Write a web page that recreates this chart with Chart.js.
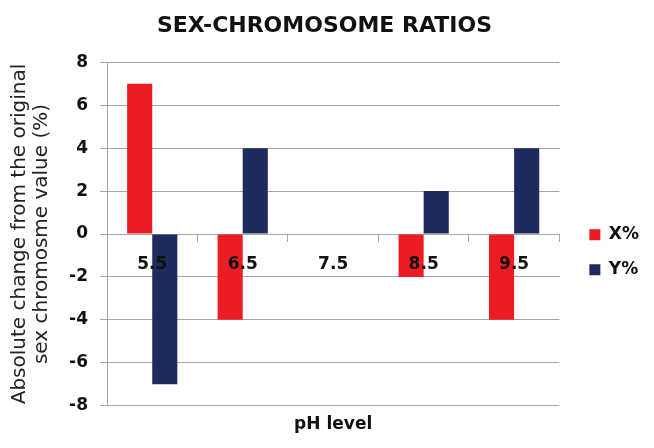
<!DOCTYPE html>
<html><head><meta charset="utf-8">
<script src="https://cdn.jsdelivr.net/npm/chart.js@4/dist/chart.umd.min.js"></script>
<style>html,body{margin:0;padding:0;background:#fff}#wrap{width:654px;height:448px}</style>
</head><body><div id="wrap"><canvas id="c" width="654" height="448"></canvas></div>
<script>
const categories = ['5.5', '6.5', '7.5', '8.5', '9.5'];
const xPercent = [7, -4, 0, -2, -4];
const yPercent = [-7, 4, 0, 2, 4];
const seriesNames = ['X%', 'Y%'];
const yMin = -8, yMax = 8, yStep = 2;
const chartTitle = 'SEX-CHROMOSOME RATIOS';
const yTitle = ['Absolute change from the original', 'sex chromosme value (%)'];
const xTitle = 'pH level';

const FONT = "'DejaVu Sans', sans-serif";
const GRID = '#A6A6A6';
Chart.defaults.color = '#000';
Chart.defaults.font.family = FONT;

new Chart(document.getElementById('c'), {
  type: 'bar',
  data: {
    labels: categories,
    datasets: [
      { label: seriesNames[0], data: xPercent, backgroundColor: '#ED1C24', xAxisID: 'x', yAxisID: 'y' },
      { label: seriesNames[1], data: yPercent, backgroundColor: '#1F2A5E', xAxisID: 'x', yAxisID: 'y' }
    ]
  },
  options: {
    responsive: false,
    animation: false,
    devicePixelRatio: 1,
    layout: { padding: { left: 0, right: 5, top: 0, bottom: 13 } },
    datasets: { bar: { barPercentage: 1, categoryPercentage: 0.555 } },
    plugins: {
      title: {
        display: true, text: chartTitle, color: '#111',
        font: { family: FONT, size: 22, weight: 'bold' },
        padding: { top: 13, bottom: 23 }
      },
      legend: {
        position: 'right',
        title: { display: true, text: ' ', font: { size: 8 }, padding: 30 },
        labels: {
          boxWidth: 11, boxHeight: 11, padding: 18, color: '#111',
          font: { family: FONT, size: 17, weight: 'bold' }
        }
      },
      tooltip: { enabled: false }
    },
    scales: {
      x: {
        type: 'category',
        position: { y: 0 },
        offset: true,
        grid: { display: true, drawOnChartArea: false, drawTicks: true, tickLength: 7, color: GRID, offset: true },
        border: { display: true, color: GRID, width: 1 },
        ticks: { z: 1, color: '#111', padding: 13, font: { family: FONT, size: 17, weight: 'bold' } }
      },
      xt: {
        type: 'category',
        position: 'bottom',
        grid: { display: false },
        border: { display: false },
        ticks: { display: false },
        title: { display: true, text: xTitle, color: '#111', font: { family: FONT, size: 17, weight: 'bold' }, padding: { top: 1, bottom: 0 } }
      },
      y: {
        min: yMin, max: yMax,
        afterFit: (s) => { s.width = 107; },
        ticks: { stepSize: yStep, color: '#111', padding: 12, font: { family: FONT, size: 17, weight: 'bold' } },
        grid: { color: GRID, tickLength: 7 },
        border: { display: true, color: GRID },
        title: { display: true, text: yTitle, color: '#222', font: { family: FONT, size: 20, lineHeight: 1.1 }, padding: { top: 9, bottom: 0 } }
      },
      yr: {
        position: 'right',
        display: true,
        grid: { display: false },
        border: { display: false },
        ticks: { display: false },
        afterFit: (s) => { s.width = 12; }
      }
    }
  }
});
</script>
</body></html>
